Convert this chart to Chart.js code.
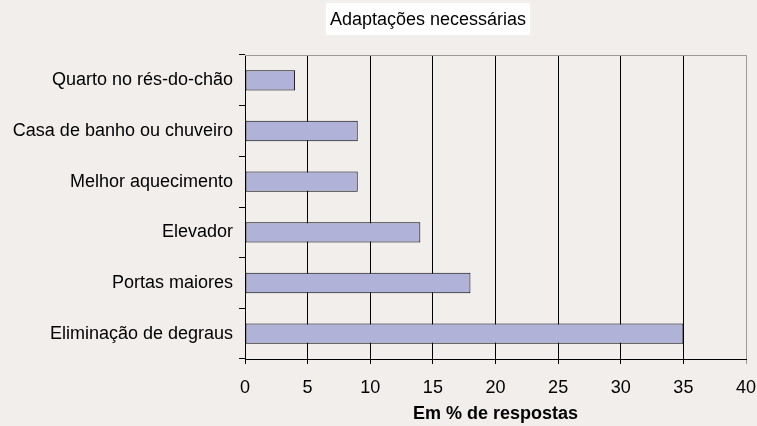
<!DOCTYPE html>
<html>
<head>
<meta charset="utf-8">
<script src="https://cdn.jsdelivr.net/npm/chart.js@4/dist/chart.umd.min.js"></script>
<style>
  html, body { margin: 0; padding: 0; background: #f2eeec; }
  #wrap { width: 757px; height: 426px; position: relative; }
</style>
</head>
<body>
<div id="wrap"><canvas id="chart" width="757" height="426"></canvas></div>
<script>
// Chart data
const chartTitle = 'Adaptações necessárias';
const axisTitle = 'Em % de respostas';
const categories = [
    'Quarto no rés-do-chão',
    'Casa de banho ou chuveiro',
    'Melhor aquecimento',
    'Elevador',
    'Portas maiores',
    'Eliminação de degraus'
];
const values = [4, 9, 9, 14, 18, 35];
const xMin = 0;
const xMax = 40;
const xStep = 5;

const FONT = 'Liberation Sans, Arial, sans-serif';

// background, title box and top border
const decorPlugin = {
    id: 'decor',
    beforeDraw(chart) {
        const ctx = chart.ctx;
        ctx.save();
        ctx.fillStyle = '#f2eeec';
        ctx.fillRect(0, 0, chart.width, chart.height);
        ctx.font = '18px ' + FONT;
        const w = ctx.measureText(chartTitle).width;
        const cx = 428, cy = 20;
        ctx.fillStyle = '#ffffff';
        ctx.fillRect(cx - w / 2 - 4, 3, w + 8, 32);
        ctx.fillStyle = '#000000';
        ctx.textAlign = 'center';
        ctx.textBaseline = 'middle';
        ctx.fillText(chartTitle, cx, cy);
        ctx.restore();
    },
    afterDraw(chart) {
        const a = chart.chartArea;
        const ctx = chart.ctx;
        ctx.save();
        ctx.strokeStyle = '#9a9a9a';
        ctx.lineWidth = 1;
        ctx.beginPath();
        ctx.moveTo(a.left, a.top + 0.5);
        ctx.lineTo(a.right, a.top + 0.5);
        ctx.stroke();
        ctx.restore();
    }
};

new Chart(document.getElementById('chart').getContext('2d'), {
    type: 'bar',
    data: {
        labels: categories,
        datasets: [{
            data: values,
            backgroundColor: '#b0b2d8',
            borderColor: '#000000',
            borderWidth: 1,
            borderSkipped: false,
            barPercentage: 0.4,
            categoryPercentage: 1
        }]
    },
    options: {
        responsive: false,
        animation: false,
        indexAxis: 'y',
        layout: { padding: { top: 55, right: 11, bottom: 0, left: 0 } },
        plugins: {
            legend: { display: false },
            title: { display: false },
            tooltip: { enabled: false }
        },
        scales: {
            x: {
                min: xMin,
                max: xMax,
                ticks: {
                    stepSize: xStep,
                    color: '#000',
                    font: { family: FONT, size: 18 },
                    padding: 13,
                    maxRotation: 0
                },
                grid: {
                    color: (c) => (c.tick && c.tick.value === xMax ? '#9a9a9a' : '#000000'),
                    drawOnChartArea: true,
                    drawTicks: true,
                    tickLength: 5
                },
                border: { display: true, color: '#000' },
                title: {
                    display: true,
                    text: axisTitle,
                    color: '#000',
                    font: { family: FONT, size: 18, weight: 'bold' },
                    padding: { top: 0, bottom: 1 }
                },
                afterFit(scale) {
                    scale.height = 67;
                    scale.paddingLeft = 0;
                    scale.paddingRight = 0;
                }
            },
            y: {
                ticks: {
                    color: '#000',
                    font: { family: FONT, size: 18 },
                    padding: 6
                },
                grid: {
                    offset: true,
                    drawOnChartArea: false,
                    drawTicks: true,
                    tickLength: 6,
                    color: '#000'
                },
                border: { display: true, color: '#000' },
                afterFit(scale) { scale.width = 245; }
            }
        }
    },
    plugins: [decorPlugin]
});
</script>
</body>
</html>
